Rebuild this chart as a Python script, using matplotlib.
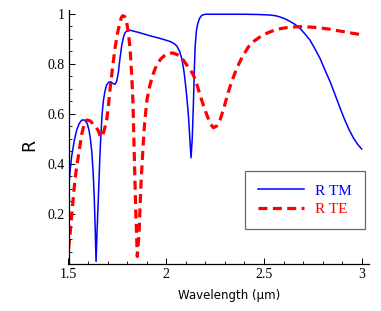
import matplotlib
matplotlib.use("Agg")
import matplotlib.pyplot as plt
from matplotlib.ticker import MultipleLocator, FixedLocator

# wavelength (um) and reflectance
wl_tm = [1.5, 1.508, 1.516, 1.53, 1.542, 1.555, 1.566, 1.576, 1.587, 1.596, 1.605, 1.612,
         1.619, 1.626, 1.632, 1.637, 1.641, 1.646, 1.653, 1.66, 1.666, 1.672, 1.678, 1.686,
         1.695, 1.705, 1.716, 1.727, 1.738, 1.746, 1.755, 1.763, 1.772, 1.782, 1.79, 1.8,
         1.815, 1.86, 1.917, 1.97, 2.02, 2.04, 2.054, 2.068, 2.08, 2.09, 2.097, 2.105,
         2.114, 2.121, 2.127, 2.133, 2.139, 2.144, 2.148, 2.154, 2.16, 2.17, 2.182, 2.2,
         2.3, 2.4, 2.47, 2.53, 2.56, 2.583, 2.61, 2.634, 2.66, 2.685, 2.71, 2.736,
         2.76, 2.787, 2.81, 2.839, 2.865, 2.89, 2.91, 2.935, 2.958, 2.98, 3.0]
r_tm = [0.296, 0.37, 0.43, 0.495, 0.536, 0.562, 0.574, 0.577, 0.572, 0.561, 0.535, 0.5,
        0.45, 0.37, 0.26, 0.13, 0.01, 0.13, 0.27, 0.42, 0.52, 0.6, 0.65, 0.69,
        0.716, 0.727, 0.729, 0.722, 0.719, 0.73, 0.765, 0.82, 0.873, 0.91, 0.926, 0.933,
        0.935, 0.926, 0.913, 0.902, 0.89, 0.882, 0.872, 0.852, 0.82, 0.775, 0.73, 0.67,
        0.59, 0.5, 0.425, 0.5, 0.64, 0.78, 0.87, 0.93, 0.958, 0.982, 0.995, 0.999,
        0.999, 0.999, 0.998, 0.996, 0.993, 0.988, 0.98, 0.97, 0.958, 0.942, 0.92, 0.895,
        0.862, 0.822, 0.78, 0.728, 0.675, 0.623, 0.583, 0.538, 0.504, 0.478, 0.46]

wl_te = [1.5, 1.508, 1.516, 1.525, 1.533, 1.542, 1.55, 1.56, 1.568, 1.58, 1.593, 1.61,
         1.627, 1.642, 1.653, 1.662, 1.67, 1.677, 1.686, 1.696, 1.705, 1.714, 1.726, 1.738,
         1.75, 1.76, 1.77, 1.777, 1.787, 1.798, 1.807, 1.815, 1.82, 1.825, 1.83, 1.838,
         1.844, 1.852, 1.861, 1.871, 1.88, 1.888, 1.9, 1.912, 1.926, 1.94, 1.952, 1.972,
         1.994, 2.015, 2.035, 2.055, 2.071, 2.088, 2.105, 2.122, 2.139, 2.156, 2.173, 2.19,
         2.208, 2.225, 2.241, 2.258, 2.276, 2.297, 2.318, 2.34, 2.361, 2.39, 2.421, 2.45,
         2.481, 2.52, 2.566, 2.62, 2.668, 2.71, 2.753, 2.8, 2.839, 2.88, 2.924, 2.96, 3.0]
r_te = [0.06, 0.12, 0.19, 0.27, 0.336, 0.39, 0.43, 0.48, 0.52, 0.558, 0.576, 0.573,
        0.56, 0.546, 0.532, 0.512, 0.507, 0.52, 0.545, 0.58, 0.64, 0.71, 0.79, 0.863,
        0.92, 0.956, 0.985, 0.993, 0.99, 0.965, 0.92, 0.862, 0.8, 0.73, 0.64, 0.39,
        0.216, 0.03, 0.123, 0.323, 0.45, 0.549, 0.649, 0.7, 0.743, 0.775, 0.796, 0.82,
        0.836, 0.843, 0.844, 0.838, 0.829, 0.815, 0.796, 0.778, 0.756, 0.72, 0.676, 0.635,
        0.596, 0.563, 0.545, 0.552, 0.578, 0.63, 0.689, 0.74, 0.783, 0.83, 0.869, 0.892,
        0.909, 0.925, 0.939, 0.946, 0.949, 0.949, 0.947, 0.943, 0.939, 0.933, 0.927, 0.922, 0.917]

fig = plt.figure(figsize=(3.81, 3.11), dpi=100)
ax = fig.add_axes([68.5 / 381, 47 / 311, 301 / 381, 254 / 311])

ax.plot(wl_tm, r_tm, color="#0000ff", lw=1.1, label="R TM")
ax.plot(wl_te, r_te, color="#ff0000", lw=2.3, dashes=(2.8, 1.7), label="R TE")

ax.set_xlim(1.5, 3.04)
ax.set_ylim(0, 1.016)
for s in ["top", "right"]:
    ax.spines[s].set_visible(False)
for s in ["left", "bottom"]:
    ax.spines[s].set_linewidth(0.9)

ax.xaxis.set_major_locator(FixedLocator([1.5, 2, 2.5, 3]))
ax.xaxis.set_minor_locator(MultipleLocator(0.1))
ax.yaxis.set_major_locator(FixedLocator([0.2, 0.4, 0.6, 0.8, 1.0]))
ax.yaxis.set_minor_locator(MultipleLocator(0.05))
ax.set_xticklabels(["1.5", "2", "2.5", "3"])
ax.set_yticklabels(["0.2", "0.4", "0.6", "0.8", "1"])
ax.tick_params(which="major", direction="in", length=4, width=0.7, labelsize=10, pad=3)
ax.tick_params(which="minor", direction="in", length=2.2, width=0.6)
for t in ax.get_xticklabels() + ax.get_yticklabels():
    t.set_family("Liberation Serif")

ax.set_xlabel("Wavelength (μm)", fontsize=8.5)
ax.xaxis.set_label_coords(0.532, -0.1)
ax.set_ylabel("R", fontsize=12.5)
ax.yaxis.set_label_coords(-0.1, 0.469)

leg = ax.legend(loc="lower right", bbox_to_anchor=(296.5 / 301, 35 / 254),
                prop={"family": "Liberation Serif", "size": 11},
                frameon=True, fancybox=False, handlelength=3.0, handletextpad=0.75,
                borderpad=0.85, labelspacing=0.3, borderaxespad=0)
leg.get_frame().set_edgecolor("#444444")
leg.get_frame().set_linewidth(0.9)
for txt, c in zip(leg.get_texts(), ["#0000ff", "#ff0000"]):
    txt.set_color(c)

fig.savefig("out.png", dpi=100)
